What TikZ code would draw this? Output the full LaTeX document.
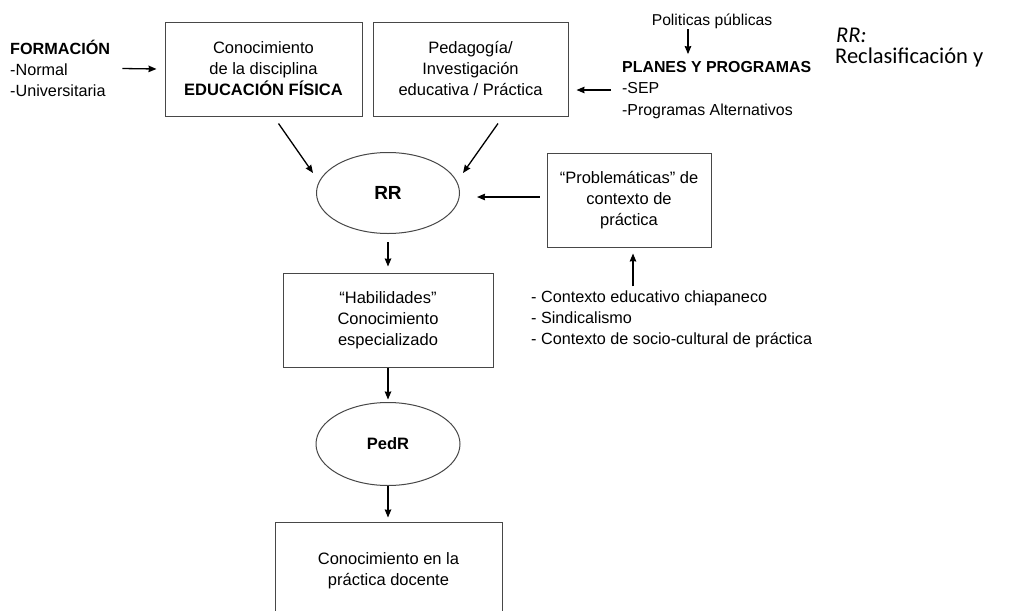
\documentclass[tikz,border=0pt]{standalone}
\usepackage{fontspec}
\setmainfont{Liberation Sans}
\newfontfamily\notefont{Carlito}
\usetikzlibrary{arrows.meta,shapes.geometric,calc}

\begin{document}
\begin{tikzpicture}[x=1pt,y=-1pt,
  every node/.style={inner sep=0pt, text=black},
  txt/.style={font=\fontsize{16.5}{21}\selectfont, align=center},
  small/.style={font=\fontsize{16.2}{21}\selectfont, align=left},
  box/.style={txt, draw=black!72, line width=1pt, rectangle},
  oval/.style={txt, draw=black!72, line width=1pt, ellipse},
  arr/.style={-{Stealth[length=8pt,width=6.5pt,inset=0.6pt]}, line width=1.3pt, black},
]
\clip (0,0) rectangle (1013,611);
\fill[white] (0,0) rectangle (1013,611);

% left input
\node[small, anchor=west] (form) at (10,68.5)
  {\textbf{FORMACIÓN}\\-Normal\\-Universitaria};

% top boxes
\node[box, minimum width=197, minimum height=94] (b1) at (263.5,69)
  {Conocimiento\\de la disciplina\\\textbf{EDUCACIÓN FÍSICA}};
\node[box, minimum width=195, minimum height=94] (b2) at (470.5,69)
  {Pedagogía/\\Investigación\\educativa / Práctica};

% right input
\node[font=\fontsize{15.7}{19}\selectfont] (pol) at (712,21) {Politicas públicas};
\node[small, anchor=west, font=\fontsize{15.9}{21.5}\selectfont] (plan) at (622,90)
  {\textbf{PLANES Y PROGRAMAS}\\-SEP\\-Programas Alternativos};

% side note
\node[anchor=base west, font=\notefont\itshape\fontsize{22.5}{26}\selectfont] (rrn) at (836,42) {RR:};
\node[anchor=base west, font=\notefont\fontsize{22.5}{26}\selectfont] (rrd) at (835,63) {Reclasificación y};

% central chain
\node[oval, minimum width=143, minimum height=81, font=\bfseries\fontsize{19}{21}\selectfont] (rr) at (388,193) {RR};
\node[box, minimum width=164, minimum height=94] (prob) at (629,200)
  {“Problemáticas” de\\contexto de\\práctica};
\node[small, anchor=west] (list) at (531,319)
  {- Contexto educativo chiapaneco\\- Sindicalismo\\- Contexto de socio-cultural de práctica};
\node[box, minimum width=210, minimum height=94] (hab) at (388,320)
  {“Habilidades”\\Conocimiento\\especializado};
\node[oval, minimum width=144, minimum height=83, font=\bfseries\fontsize{16.5}{21}\selectfont] (pedr) at (388,444) {PedR};
\node[box, minimum width=227, minimum height=97] (cpd) at (388.5,570.5)
  {Conocimiento en la\\práctica docente};

% connectors
\draw[arr] ([xshift=12]form.east) -- ([xshift=-8]b1.west);
\draw[arr] ([xshift=-11]plan.west) -- ([xshift=8]b2.east |- plan.west);
\draw[arr, shorten >=7pt] ([xshift=-24,yshift=-8]pol.center) -- ([xshift=-24]pol.center |- plan.north);
\draw[arr] ($(b1.south)+(15,7)$) -- ($(rr.center)+(-75,-20)$);
\draw[arr] ($(b2.south)+(27.5,7)$) -- ($(rr.center)+(75,-20)$);
\draw[arr] ([shift={(-7,-3)}]prob.west) -- ([shift={(17,4)}]rr.east);
\draw[arr, shorten <=4pt] ([xshift=4]prob.south |- list.north) -- ([xshift=4,yshift=-6]prob.south);
\draw[arr, shorten <=8pt, shorten >=6pt] (rr.south) -- (hab.north);
\draw[arr, shorten >=2.5pt] (hab.south) -- (pedr.north);
\draw[arr, shorten >=4pt] (pedr.south) -- (pedr.south |- cpd.north);
\end{tikzpicture}
\end{document}
